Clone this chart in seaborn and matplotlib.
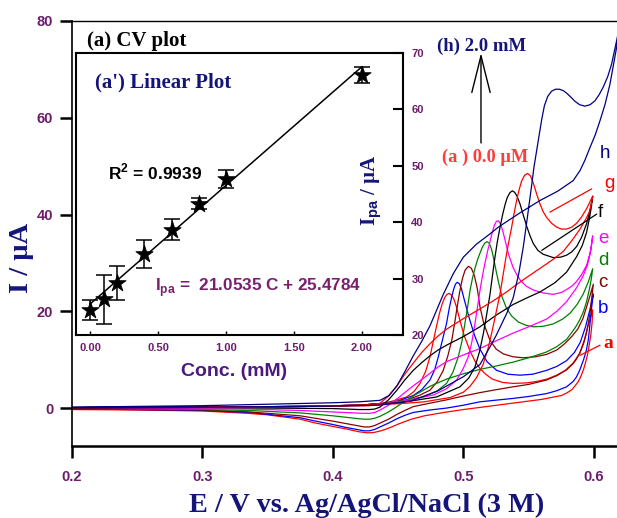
import matplotlib
matplotlib.use("Agg")
import matplotlib.pyplot as plt
import pandas as pd
import seaborn as sns

sns.set_theme(style="white")
plt.rcParams["font.family"] = ["Liberation Sans", "DejaVu Sans"]
plt.rcParams["mathtext.fontset"] = "custom"
plt.rcParams["mathtext.rm"] = "Liberation Sans"
plt.rcParams["mathtext.bf"] = "Liberation Sans:bold"

SERIF = ["Liberation Serif", "DejaVu Serif"]
SANS = ["Liberation Sans", "DejaVu Sans"]
PURPLE = "#6b1d6b"
NAVY = "#14147a"

# ---- cyclic voltammograms: anodic-peak sweep up to the vertex, then the return sweep ----
E_a = [0.20, 0.30, 0.38, 0.42, 0.436, 0.4437, 0.4564, 0.4620, 0.4667, 0.4710, 0.4743, 0.4770, 0.4794,
       0.4815, 0.4835, 0.4855, 0.4873, 0.4890, 0.4907, 0.4925, 0.4945, 0.4973, 0.5005, 0.505, 0.509,
       0.5126, 0.517, 0.522, 0.530, 0.538, 0.548, 0.556, 0.564, 0.5714, 0.578, 0.584, 0.589, 0.5925,
       0.5955, 0.599,
       0.5985, 0.5975, 0.5963, 0.595, 0.5935, 0.592, 0.590, 0.588, 0.5855, 0.583, 0.579, 0.575, 0.560,
       0.540, 0.520, 0.500, 0.485, 0.470, 0.460, 0.450, 0.445, 0.440, 0.436, 0.432, 0.429, 0.426,
       0.423, 0.420, 0.410, 0.400, 0.385, 0.375, 0.350, 0.336, 0.300, 0.250, 0.200]
I_a = [0.1, 0.2, 0.35, 0.6, 0.9, 1.3, 2.3, 3.4, 5.1, 7.6, 10.6, 14.0, 17.0,
       19.5, 21.4, 22.8, 23.5, 23.7, 23.4, 22.6, 21.0, 18.1, 15.0, 11.8, 9.6,
       8.2, 7.0, 6.0, 5.3, 5.1, 5.2, 5.5, 6.0, 6.8, 7.8, 9.3, 11.3, 14.0,
       17.0, 20.3,
       17.5, 15.0, 13.0, 11.0, 9.4, 8.0, 6.6, 5.5, 4.6, 3.8, 3.1, 2.6, 1.8,
       1.1, 0.4, -0.3, -0.9, -1.6, -2.3, -3.3, -3.9, -4.4, -4.75, -5.0, -5.1, -5.1,
       -5.0, -4.9, -4.3, -3.8, -3.0, -2.3, -1.4, -1.1, -0.6, -0.4, -0.3]

E_b = [0.20, 0.30, 0.38, 0.42, 0.436, 0.446, 0.4615, 0.468, 0.4743, 0.478, 0.4807, 0.4838, 0.487,
       0.4892, 0.491, 0.4925, 0.4938, 0.4952, 0.4968, 0.4985, 0.5005, 0.5045, 0.5085, 0.5126, 0.518,
       0.5254, 0.534, 0.5433, 0.553, 0.5637, 0.5714, 0.579, 0.585, 0.5895, 0.5935, 0.597, 0.5995,
       0.5985, 0.5975, 0.5966, 0.5956, 0.594, 0.592, 0.589, 0.5865, 0.584, 0.579, 0.5715, 0.5637,
       0.550, 0.538, 0.5126, 0.500, 0.487, 0.474, 0.4615, 0.455, 0.449, 0.4425, 0.436, 0.432, 0.428,
       0.424, 0.420, 0.410, 0.400, 0.385, 0.375, 0.336, 0.300, 0.250, 0.200]
I_b = [0.1, 0.2, 0.35, 0.6, 0.9, 1.1, 2.6, 3.8, 5.8, 8.0, 10.6, 14.0, 17.5,
       20.8, 23.0, 24.6, 25.6, 26.0, 25.7, 24.6, 22.5, 18.5, 15.0, 12.2, 9.6,
       7.8, 7.0, 6.8, 7.0, 7.8, 8.6, 9.8, 11.5, 13.6, 16.8, 20.5, 23.6,
       21.5, 19.0, 16.5, 14.0, 11.8, 10.0, 7.8, 6.4, 5.5, 4.4, 3.6, 3.0,
       2.4, 2.0, 1.3, 0.6, 0.0, -0.4, -0.9, -1.5, -2.2, -3.1, -3.9, -4.4, -4.7,
       -4.7, -4.5, -4.0, -3.4, -2.6, -2.0, -0.9, -0.5, -0.3, -0.2]

E_c = [0.20, 0.30, 0.38, 0.42, 0.436, 0.4564, 0.466, 0.4743, 0.480, 0.4845, 0.488, 0.491, 0.4932,
       0.4952, 0.4972, 0.4992, 0.5012, 0.5037, 0.506, 0.5082, 0.5105, 0.5126, 0.5155, 0.5203, 0.525,
       0.5305, 0.538, 0.5458, 0.555, 0.5637, 0.5715, 0.5775, 0.583, 0.5875, 0.5915, 0.595, 0.5995,
       0.5985, 0.597, 0.5956, 0.594, 0.592, 0.589, 0.5865, 0.584, 0.579, 0.5715, 0.5637, 0.550, 0.538,
       0.525, 0.5126, 0.500, 0.487, 0.474, 0.4615, 0.455, 0.449, 0.4425, 0.436, 0.432, 0.428, 0.424,
       0.420, 0.410, 0.400, 0.375, 0.336, 0.300, 0.250, 0.200]
I_c = [0.1, 0.2, 0.35, 0.6, 0.9, 1.7, 2.6, 3.7, 5.5, 7.8, 10.8, 14.0, 17.5,
       21.0, 24.2, 26.8, 28.5, 29.3, 28.9, 27.5, 24.8, 21.0, 17.5, 14.0, 12.2,
       11.2, 10.6, 10.4, 10.6, 11.1, 12.0, 13.3, 14.8, 16.3, 18.5, 21.5, 25.6,
       23.3, 19.8, 17.5, 15.3, 13.3, 11.3, 10.1, 9.2, 7.9, 6.7, 5.8, 4.9, 4.4,
       3.8, 3.2, 2.5, 1.7, 1.0, 0.3, -0.5, -1.3, -2.3, -3.1, -3.6, -3.9, -3.9,
       -3.7, -3.2, -2.7, -1.6, -0.8, -0.4, -0.3, -0.2]

E_d = [0.20, 0.30, 0.38, 0.42, 0.436, 0.449, 0.4692, 0.480, 0.487, 0.492, 0.496, 0.4988, 0.5011,
       0.5032, 0.505, 0.507, 0.5088, 0.5108, 0.5126, 0.5145, 0.5163, 0.518, 0.5197, 0.5213, 0.5228,
       0.5248, 0.527, 0.5295, 0.533, 0.537, 0.542, 0.548, 0.5535, 0.561, 0.5688, 0.576, 0.5816, 0.587,
       0.5918, 0.5955, 0.599,
       0.598, 0.5965, 0.5943, 0.592, 0.589, 0.5865, 0.584, 0.579, 0.5715, 0.5637, 0.550, 0.538, 0.525,
       0.5126, 0.500, 0.487, 0.4743, 0.468, 0.4615, 0.455, 0.449, 0.4425, 0.436, 0.432, 0.428, 0.424,
       0.420, 0.400, 0.375, 0.336, 0.300, 0.200]
I_d = [0.1, 0.2, 0.35, 0.6, 0.9, 1.3, 2.3, 3.6, 5.1, 7.5, 10.6, 13.8, 17.5,
       21.0, 24.3, 27.0, 28.9, 30.7, 32.0, 33.3, 34.1, 34.4, 34.1, 33.0, 31.3,
       28.6, 25.8, 23.0, 20.6, 19.0, 17.8, 17.1, 16.8, 16.9, 17.4, 18.4, 19.6, 21.4,
       23.6, 26.0, 28.8,
       26.8, 24.6, 22.0, 20.0, 18.2, 17.0, 16.0, 14.2, 12.7, 11.6, 10.4, 9.5, 8.7,
       8.0, 7.1, 6.0, 4.5, 3.5, 2.5, 1.4, 0.3, -0.8, -1.7, -2.1, -2.3, -2.3,
       -2.2, -1.6, -1.0, -0.5, -0.3, -0.1]

E_e = [0.20, 0.30, 0.38, 0.42, 0.436, 0.4513, 0.4769, 0.487, 0.4947, 0.4995, 0.5037, 0.5065, 0.5088,
       0.5108, 0.5126, 0.5145, 0.5165, 0.5185, 0.5203, 0.522, 0.5237, 0.5252, 0.5268, 0.5285, 0.5305,
       0.5325, 0.5345, 0.5365, 0.5381, 0.541, 0.5433, 0.548, 0.5535, 0.561, 0.5688, 0.575, 0.579,
       0.5835, 0.5867, 0.5905, 0.5943, 0.5975, 0.599,
       0.598, 0.5969, 0.595, 0.5918, 0.5867, 0.579, 0.5715, 0.5637, 0.550, 0.538, 0.525, 0.5126, 0.500,
       0.487, 0.4805, 0.4743, 0.468, 0.4615, 0.455, 0.449, 0.4425, 0.436, 0.432, 0.428, 0.420, 0.400,
       0.375, 0.336, 0.200]
I_e = [0.1, 0.2, 0.35, 0.6, 0.9, 1.3, 2.7, 4.0, 5.8, 8.0, 10.6, 13.8, 17.5,
       21.0, 24.3, 27.3, 30.0, 32.5, 34.4, 36.3, 37.8, 38.6, 38.7, 38.0, 36.2,
       34.0, 31.8, 30.2, 29.0, 27.5, 26.5, 25.2, 24.4, 23.8, 23.5, 23.9, 24.5,
       25.3, 26.2, 27.6, 29.5, 32.5, 35.6,
       33.6, 31.8, 29.6, 27.4, 24.9, 22.0, 20.0, 18.4, 16.8, 15.5, 13.9, 12.3, 11.0,
       9.6, 8.5, 7.2, 5.9, 4.6, 3.2, 1.9, 0.6, -0.4, -0.9, -1.1, -1.05, -0.8,
       -0.5, -0.2, 0.0]

E_f = [0.20, 0.30, 0.38, 0.42, 0.436, 0.4513, 0.4794, 0.4973, 0.504, 0.5088, 0.5122, 0.5152, 0.5178,
       0.5203, 0.5222, 0.5241, 0.526, 0.528, 0.530, 0.5318, 0.5335, 0.5355, 0.5374, 0.5392, 0.541,
       0.5433, 0.5458, 0.5484, 0.551, 0.5535, 0.557, 0.561, 0.5688, 0.5745, 0.579, 0.583, 0.5867,
       0.5905, 0.5943, 0.597, 0.599,
       0.598, 0.5965, 0.5943, 0.591, 0.5867, 0.579, 0.570, 0.5586, 0.548, 0.538, 0.525, 0.5126, 0.500,
       0.487, 0.4805, 0.4743, 0.468, 0.4615, 0.455, 0.449, 0.4425, 0.436, 0.432, 0.428, 0.420, 0.400,
       0.300, 0.200]
I_f = [0.1, 0.2, 0.35, 0.6, 0.9, 1.1, 2.3, 4.4, 6.2, 8.5, 11.6, 15.4, 19.4,
       23.5, 27.4, 31.2, 34.5, 37.4, 40.0, 42.0, 43.5, 44.5, 44.9, 44.6, 43.8,
       42.2, 39.9, 37.6, 35.6, 34.0, 32.6, 31.8, 31.1, 31.2, 31.6, 32.3, 33.4,
       35.3, 38.1, 41.0, 43.8,
       41.6, 39.2, 36.3, 33.6, 31.3, 28.1, 25.9, 24.0, 22.7, 21.4, 19.2, 16.8, 14.8,
       13.0, 12.0, 10.8, 9.4, 7.8, 5.8, 3.7, 1.7, 0.2, -0.2, -0.3, -0.3, -0.1,
       0.1, 0.0]

E_g = [0.20, 0.30, 0.38, 0.42, 0.436, 0.45, 0.47, 0.49, 0.500, 0.505, 0.510, 0.515, 0.519, 0.522,
       0.525, 0.528, 0.5305, 0.533, 0.535, 0.5369, 0.5388, 0.5407, 0.5427, 0.5445, 0.5468, 0.5491,
       0.5513, 0.5535, 0.556, 0.5586, 0.561, 0.5637, 0.5675, 0.5714, 0.575, 0.579, 0.583, 0.5867,
       0.5905, 0.5943, 0.597, 0.599,
       0.598, 0.5965, 0.594, 0.5893, 0.583, 0.5765, 0.570, 0.5637, 0.556, 0.5484, 0.541, 0.533, 0.523,
       0.5126, 0.500, 0.487, 0.4805, 0.4743, 0.468, 0.4615, 0.455, 0.449, 0.4425, 0.436, 0.428, 0.400,
       0.300, 0.200]
I_g = [0.1, 0.2, 0.35, 0.6, 0.8, 0.9, 1.3, 2.2, 3.3, 4.5, 6.3, 9.0, 12.5, 16.0,
       19.8, 23.6, 27.8, 31.9, 34.8, 37.4, 40.3, 42.9, 45.2, 46.9, 48.1, 48.5,
       48.0, 46.5, 44.3, 42.2, 40.6, 39.4, 38.2, 37.4, 37.0, 37.0, 37.4, 38.2,
       39.5, 41.2, 42.7, 43.8,
       42.2, 40.6, 39.2, 37.0, 34.6, 32.4, 31.0, 29.8, 28.4, 27.0, 25.6, 24.0, 22.2,
       20.5, 18.5, 16.3, 14.9, 13.3, 11.5, 9.3, 7.0, 4.6, 2.5, 1.0, 0.5, 0.4,
       0.2, 0.1]

E_h = [0.20, 0.30, 0.38, 0.42, 0.436, 0.46, 0.48, 0.50, 0.5126, 0.520, 0.525, 0.533, 0.5381, 0.5425,
       0.5458, 0.549, 0.5522, 0.554, 0.5573, 0.5599, 0.562, 0.5645, 0.5675, 0.5705, 0.5735, 0.5765,
       0.579, 0.5825, 0.5854, 0.589, 0.593, 0.597, 0.6007, 0.604, 0.607, 0.6105, 0.6135, 0.6173, 0.622,
       0.6173, 0.6122, 0.6085, 0.6046, 0.601, 0.597, 0.593, 0.5893, 0.584, 0.572, 0.5586, 0.543,
       0.5267, 0.5203, 0.510, 0.4999, 0.4922, 0.4845, 0.4795, 0.4743, 0.468, 0.4615, 0.455, 0.449,
       0.443, 0.436, 0.420, 0.400, 0.350, 0.300, 0.200]
I_h = [0.1, 0.2, 0.35, 0.5, 0.6, 1.5, 3.5, 6.5, 9.0, 12.5, 15.0, 19.5, 22.8, 28.0,
       33.3, 39.5, 46.0, 49.8, 55.3, 59.6, 62.5, 64.4, 65.5, 65.9, 65.9, 65.6,
       65.1, 64.2, 63.4, 62.7, 62.4, 62.7, 63.5, 64.8, 66.3, 68.5, 71.1, 75.9, 82.0,
       74.5, 66.9, 62.8, 59.4, 56.5, 53.9, 51.2, 49.1, 47.0, 44.8, 42.9, 40.3,
       37.4, 36.0, 33.9, 31.2, 27.8, 23.5, 20.3, 17.0, 13.8, 10.8, 7.5, 4.6,
       2.6, 1.6, 1.3, 1.1, 0.8, 0.5, 0.2]

curve_labels = ["a", "b", "c", "d", "e", "f", "g", "h"]
curve_colors = ["#ff0000", "#0000ff", "#8b0000", "#008000", "#ff00ff", "#000000", "#ff0000", "#000080"]
curve_E = [E_a, E_b, E_c, E_d, E_e, E_f, E_g, E_h]
curve_I = [I_a, I_b, I_c, I_d, I_e, I_f, I_g, I_h]

# ---- calibration (inset) ----
conc_mM = [0.0, 0.1, 0.2, 0.4, 0.6, 0.8, 1.0, 2.0]
ipa_uA = [24.4, 26.3, 29.2, 34.3, 38.7, 43.3, 47.6, 66.1]
ipa_err = [1.8, 4.4, 3.0, 2.5, 1.8, 1.0, 1.6, 1.5]
fit_slope, fit_intercept = 21.0535, 25.4784
r_squared = "0.9939"

frames = []
for lab, E, I in zip(curve_labels, curve_E, curve_I):
    frames.append(pd.DataFrame({"E": E, "I": I, "curve": lab}))
cv = pd.concat(frames, ignore_index=True)

fig = plt.figure(figsize=(6.17, 5.18), dpi=100)
ax = fig.add_axes([72 / 617, 1 - 446 / 518, 545 / 617, 425 / 518])

sns.lineplot(data=cv, x="E", y="I", hue="curve", units="curve", estimator=None, sort=False,
             palette=dict(zip(curve_labels, curve_colors)), linewidth=0.9, legend=False, ax=ax)

ax.set_xlim(0.2, 0.2 + 545 / 1305)
ax.set_ylim(-(446 - 408) / 4.85, 80)
ax.set_xticks([0.2, 0.3, 0.4, 0.5, 0.6])
ax.set_xticklabels(["0.2", "0.3", "0.4", "0.5", "0.6"])
ax.set_yticks([0, 20, 40, 60, 80])
ax.set_xlabel("")
ax.set_ylabel("")
for s in ["left", "bottom", "top"]:
    ax.spines[s].set_color("black")
ax.spines["left"].set_linewidth(1.2)
ax.spines["bottom"].set_linewidth(1.8)
ax.spines["top"].set_linewidth(1.0)
ax.spines["right"].set_visible(False)
ax.tick_params(axis="both", which="major", direction="out", length=8.5, width=1.8,
               color="black", labelcolor=PURPLE, labelsize=10.5, bottom=True, left=True)
ax.tick_params(axis="y", pad=5)
ax.tick_params(axis="x", pad=9)
for t in ax.get_xticklabels() + ax.get_yticklabels():
    t.set_fontweight("bold")
    t.set_family(SANS)

# curve letters and leader lines
letter_pos = {"h": (0.6046, 52.6), "g": (0.6077, 46.4), "f": (0.6031, 40.4), "e": (0.6031, 35.0),
              "d": (0.6031, 30.5), "c": (0.6031, 26.0), "b": (0.6031, 20.6)}
for lab, col in zip(curve_labels, curve_colors):
    if lab in letter_pos:
        x, y = letter_pos[lab]
        ax.text(x, y, lab, color=col, fontsize=13.5, family=SANS, ha="left", va="center")
ax.text(0.6069, 13.4, "a", color="#ff0000", fontsize=14, family=SERIF, fontweight="bold",
        ha="left", va="center")
ax.plot([0.5662, 0.5982], [40.5, 45.3], color="#ff0000", lw=0.9)
ax.plot([0.5600, 0.6021], [32.6, 40.1], color="black", lw=0.9)
ax.plot([0.5893, 0.6046], [10.9, 13.0], color="#ff0000", lw=0.9)

ax.text(0.2115, 75.9, "(a) CV plot", color="black", fontsize=15, family=SERIF,
        fontweight="bold", ha="left", va="center")
ax.text(0.4797, 74.8, "(h) 2.0 mM", color=NAVY, fontsize=13.5, family=SERIF,
        fontweight="bold", ha="left", va="center")
ax.text(0.4835, 51.8, "(a ) 0.0 \u00b5M", color="#ff3b3b", fontsize=13.2, family=SERIF,
        fontweight="bold", ha="left", va="center")
ax.annotate("", xy=(0.5134, 73.4), xytext=(0.5134, 54.8),
            arrowprops=dict(arrowstyle="->,head_length=2.2,head_width=0.55", color="black",
                            lw=1.0, shrinkA=0, shrinkB=0))

fig.text(22 / 617, 1 - 258 / 518, "I / \u00b5A", rotation=90, color=NAVY, fontsize=20.5,
         family=SERIF, fontweight="bold", ha="center", va="center")
fig.text(367 / 617, 1 - 505 / 518, "E / V vs. Ag/AgCl/NaCl (3 M)", color=NAVY, fontsize=20.3,
         family=SERIF, fontweight="bold", ha="center", va="center")

# ---- inset: peak current vs concentration ----
ins = fig.add_axes([76 / 617, 1 - 335 / 518, 327 / 617, 282 / 518])
ins.set_facecolor("white")
ins.errorbar(conc_mM, ipa_uA, yerr=ipa_err, fmt="none", ecolor="black", elinewidth=1.1,
             capsize=6, capthick=1.1, zorder=2)
fit_x = [0.0, 2.0]
fit_y = [fit_slope * c + fit_intercept for c in fit_x]
sns.lineplot(x=fit_x, y=fit_y, color="black", linewidth=1.1, ax=ins, zorder=2)
sns.scatterplot(x=conc_mM, y=ipa_uA, marker="*", s=170, color="black", edgecolor="black",
                linewidth=0.6, ax=ins, zorder=3)
ins.set_xlim(-0.103, 2.301)
ins.set_ylim(20, 70)
ins.set_xticks([0.0, 0.5, 1.0, 1.5, 2.0])
ins.set_xticklabels(["0.00", "0.50", "1.00", "1.50", "2.00"])
ins.set_yticks([20, 30, 40, 50, 60, 70])
ins.yaxis.tick_right()
for s in ins.spines.values():
    s.set_visible(True)
    s.set_color("black")
    s.set_linewidth(1.5)
ins.tick_params(axis="y", right=True, left=False, direction="in", length=7, width=1.5,
                color="black", labelcolor=PURPLE, labelsize=8, pad=6)
ins.tick_params(axis="x", bottom=True, direction="in", length=3, width=1.0,
                color="black", labelcolor=PURPLE, labelsize=8, pad=6)
for t in ins.get_xticklabels() + ins.get_yticklabels():
    t.set_fontweight("bold")
    t.set_family(SANS)

ins.text(0.037, 64.7, "(a') Linear Plot", color=NAVY, fontsize=15, family=SERIF,
         fontweight="bold", ha="left", va="center")
ins.text(0.132, 48.9, r"R$^{\mathbf{2}}$ = " + r_squared, color="black", fontsize=12.5,
         family=SANS, fontweight="bold", ha="left", va="center")
ins.text(0.478, 28.5, r"I$_{\mathbf{pa}}$ =  " + f"{fit_slope:.4f} C + {fit_intercept:.4f}",
         color="#7a1f6e", fontsize=12.3, family=SANS, fontweight="bold", ha="left", va="center")
ins.text(2.07, 45.7, r"I$_{\mathbf{pa}}$ / " + "\u00b5A", rotation=90,
         color=NAVY, fontsize=15, family=SERIF, fontweight="bold", ha="center", va="center")
fig.text(234 / 617, 1 - 372 / 518, "Conc. (mM)", color="#4b1a7e", fontsize=14,
         family=SANS, fontweight="bold", ha="center", va="center")

fig.savefig("out.png", dpi=100)
